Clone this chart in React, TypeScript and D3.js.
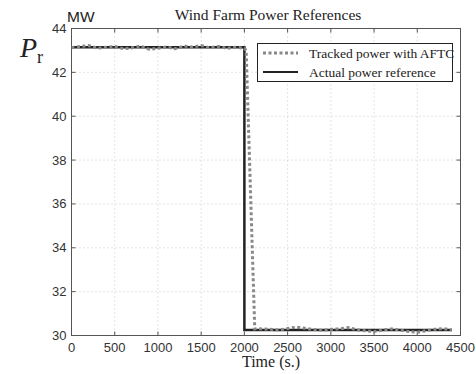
import * as d3 from 'd3';

// actual power reference (step)
const refTime = [0, 2000, 2000, 4400];
const refPower = [43.15, 43.15, 30.25, 30.25];

// tracked power with AFTC
const trackTime = [
  0, 100, 200, 300, 400, 500, 600, 700, 800, 900, 1000, 1100, 1200, 1300, 1400, 1500, 1600, 1700, 1800, 1900, 2000, 2020,
  2120, 2150, 2200, 2300, 2400, 2500, 2600, 2700, 2800, 2900, 3000, 3100, 3200, 3300, 3400, 3500, 3600, 3700, 3800, 3900,
  4000, 4100, 4200, 4300, 4400,
];
const trackPower = [
  43.12, 43.18, 43.22, 43.1, 43.14, 43.18, 43.08, 43.12, 43.2, 43.05, 43.1, 43.16, 43.08, 43.2, 43.15, 43.22, 43.12, 43.18,
  43.1, 43.15, 43.1, 43.0,
  30.3, 30.32, 30.3, 30.28, 30.25, 30.32, 30.38, 30.33, 30.27, 30.24, 30.28, 30.3, 30.36, 30.26, 30.22, 30.18, 30.25, 30.3,
  30.25, 30.18, 30.15, 30.22, 30.28, 30.32, 30.25,
];

const xTicks = [0, 500, 1000, 1500, 2000, 2500, 3000, 3500, 4000, 4500];
const yTicks = [30, 32, 34, 36, 38, 40, 42, 44];

const legendLabels = ['Tracked power with AFTC', 'Actual power reference'];

const W = 476;
const H = 374;
const left = 71.5;
const right = 460.5;
const top = 28.5;
const bottom = 335.5;

const sans = '"Liberation Sans", Arial, sans-serif';
const serif = '"Liberation Serif", "Times New Roman", serif';

export default function App() {
  const x = d3.scaleLinear().domain([0, 4500]).range([left, right]);
  const y = d3.scaleLinear().domain([30, 44]).range([bottom, top]);

  const line = d3
    .line<[number, number]>()
    .x((d) => x(d[0]))
    .y((d) => y(d[1]));

  const refPts = refTime.map((t, i) => [t, refPower[i]] as [number, number]);
  const trackPts = trackTime.map((t, i) => [t, trackPower[i]] as [number, number]);

  const axisColor = '#555';
  const gridColor = '#bbb';

  return (
    <svg
      width={W}
      height={H}
      style={{ position: 'absolute', left: 0, top: 0, background: '#fff' }}
    >
      {/* grid */}
      {xTicks.slice(1, -1).map((t) => (
        <line key={'gx' + t} x1={x(t)} x2={x(t)} y1={top} y2={bottom} stroke={gridColor} strokeWidth={0.8} strokeDasharray="1,3" />
      ))}
      {yTicks.slice(1, -1).map((t) => (
        <line key={'gy' + t} x1={left} x2={right} y1={y(t)} y2={y(t)} stroke={gridColor} strokeWidth={0.8} strokeDasharray="1,3" />
      ))}

      {/* box */}
      <rect x={left} y={top} width={right - left} height={bottom - top} fill="none" stroke={axisColor} strokeWidth={1} />

      {/* ticks */}
      {xTicks.map((t) => (
        <g key={'tx' + t}>
          <line x1={x(t)} x2={x(t)} y1={bottom} y2={bottom - 4} stroke={axisColor} />
          <line x1={x(t)} x2={x(t)} y1={top} y2={top + 4} stroke={axisColor} />
          <text x={x(t)} y={bottom + 16} textAnchor="middle" fontFamily={sans} fontSize={13} fill="#333">
            {t}
          </text>
        </g>
      ))}
      {yTicks.map((t) => (
        <g key={'ty' + t}>
          <line x1={left} x2={left + 4} y1={y(t)} y2={y(t)} stroke={axisColor} />
          <line x1={right} x2={right - 4} y1={y(t)} y2={y(t)} stroke={axisColor} />
          <text x={left - 5} y={y(t) + 4.5} textAnchor="end" fontFamily={sans} fontSize={13} fill="#333">
            {t}
          </text>
        </g>
      ))}

      {/* series */}
      <path d={line(refPts) || ''} fill="none" stroke="#222" strokeWidth={2.5} />
      <path d={line(trackPts) || ''} fill="none" stroke="#888" strokeWidth={3} strokeDasharray="3,2.5" />

      {/* legend */}
      <rect x={257.5} y={43.5} width={195} height={38} fill="#fff" stroke="#222" strokeWidth={1} />
      <line x1={263} x2={298} y1={53} y2={53} stroke="#888" strokeWidth={3} strokeDasharray="3,2.5" />
      <line x1={263} x2={298} y1={72} y2={72} stroke="#222" strokeWidth={2} />
      {legendLabels.map((l, i) => (
        <text key={l} x={309} y={58 + i * 19} fontFamily={serif} fontSize={13.5} fill="#222">
          {l}
        </text>
      ))}

      {/* titles */}
      <text x={268} y={20} textAnchor="middle" fontFamily={serif} fontSize={15.5} fill="#222">
        Wind Farm Power References
      </text>
      <text x={67} y={22} fontFamily={sans} fontSize={15.5} fill="#222">
        MW
      </text>
      <text x={20} y={57} fontFamily={serif} fontSize={28} fontStyle="italic" fill="#222">
        P
      </text>
      <text x={37} y={63} fontFamily={serif} fontSize={18} fill="#222">
        r
      </text>
      <text x={271} y={367} textAnchor="middle" fontFamily={serif} fontSize={16} fill="#222">
        Time (s.)
      </text>
    </svg>
  );
}
